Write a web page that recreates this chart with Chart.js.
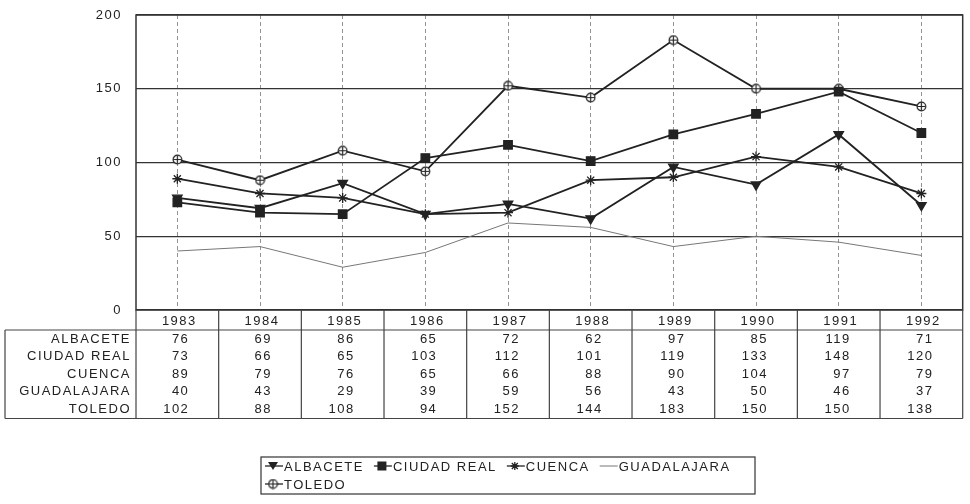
<!DOCTYPE html>
<html>
<head>
<meta charset="utf-8">
<script src="https://cdn.jsdelivr.net/npm/chart.js@4/dist/chart.umd.min.js"></script>
<style>
  html, body { margin: 0; padding: 0; background: #fff; }
  #wrap { width: 970px; height: 504px; }
</style>
</head>
<body>
<div id="wrap"><canvas id="chart" width="970" height="504"></canvas></div>
<script>
const years = ['1983', '1984', '1985', '1986', '1987', '1988', '1989', '1990', '1991', '1992'];
const albacete = [76, 69, 86, 65, 72, 62, 97, 85, 119, 71];
const ciudadReal = [73, 66, 65, 103, 112, 101, 119, 133, 148, 120];
const cuenca = [89, 79, 76, 65, 66, 88, 90, 104, 97, 79];
const guadalajara = [40, 43, 29, 39, 59, 56, 43, 50, 46, 37];
const toledo = [102, 88, 108, 94, 152, 144, 183, 150, 150, 138];
const yTicks = [0, 50, 100, 150, 200];

const ink = '#222';
const FONT = "13px 'Liberation Sans', Arial, sans-serif";

// open circle with a cross, used for TOLEDO
function circlePlus() {
  const c = document.createElement('canvas');
  c.width = 11; c.height = 11;
  const g = c.getContext('2d');
  g.fillStyle = '#fff';
  g.strokeStyle = ink;
  g.lineWidth = 1.2;
  g.beginPath(); g.arc(5.5, 5.5, 4.3, 0, Math.PI * 2); g.fill(); g.stroke();
  g.beginPath(); g.moveTo(1.5, 5.5); g.lineTo(9.5, 5.5); g.moveTo(5.5, 1.5); g.lineTo(5.5, 9.5); g.stroke();
  return c;
}
const toledoMark = circlePlus();

const series = [
  { label: 'ALBACETE', data: albacete, style: 'triangle', rotation: 180, radius: 5.5 },
  { label: 'CIUDAD REAL', data: ciudadReal, style: 'rect', radius: 6 },
  { label: 'CUENCA', data: cuenca, style: 'star', radius: 5 },
  { label: 'GUADALAJARA', data: guadalajara, style: false, radius: 0 },
  { label: 'TOLEDO', data: toledo, style: toledoMark, radius: 5 }
];

function drawMarker(ctx, s, x, y) {
  ctx.save();
  ctx.fillStyle = ink; ctx.strokeStyle = ink; ctx.lineWidth = 1.3;
  if (s.style === 'triangle') {
    ctx.beginPath(); ctx.moveTo(x - 5, y - 4); ctx.lineTo(x + 5, y - 4); ctx.lineTo(x, y + 4); ctx.closePath(); ctx.fill();
  } else if (s.style === 'rect') {
    ctx.fillRect(x - 4.5, y - 4.5, 9, 9);
  } else if (s.style === 'star') {
    ctx.beginPath();
    ctx.moveTo(x - 4, y); ctx.lineTo(x + 4, y); ctx.moveTo(x, y - 4); ctx.lineTo(x, y + 4);
    ctx.moveTo(x - 3, y - 3); ctx.lineTo(x + 3, y + 3); ctx.moveTo(x - 3, y + 3); ctx.lineTo(x + 3, y - 3);
    ctx.stroke();
  } else if (s.style) {
    ctx.drawImage(s.style, x - 5.5, y - 5.5);
  }
  ctx.restore();
}

const tablePlugin = {
  id: 'tablePlugin',
  beforeDraw(chart) {
    chart.ctx.letterSpacing = '1.5px';
  },
  afterDraw(chart) {
    const ctx = chart.ctx;
    const a = chart.chartArea;
    const x = chart.scales.x;
    const colW = (a.right - a.left) / years.length;
    ctx.save();
    ctx.letterSpacing = '1.5px';

    // plot frame
    ctx.strokeStyle = '#333';
    ctx.lineWidth = 1.5;
    ctx.strokeRect(a.left, a.top, a.right - a.left, a.bottom - a.top);

    // data table
    const headTop = a.bottom, headBottom = a.bottom + 20;
    const rowH = 17.5;
    const tableBottom = headBottom + rowH * series.length + 1;
    const labelLeft = 5;
    ctx.lineWidth = 1.2;
    ctx.strokeStyle = '#444';
    ctx.beginPath();
    ctx.moveTo(labelLeft, headBottom); ctx.lineTo(a.right, headBottom);
    ctx.moveTo(labelLeft, tableBottom); ctx.lineTo(a.right, tableBottom);
    ctx.moveTo(labelLeft, headBottom); ctx.lineTo(labelLeft, tableBottom);
    for (let i = 0; i <= years.length; i++) {
      const bx = a.left + i * colW;
      ctx.moveTo(bx, headTop); ctx.lineTo(bx, tableBottom);
    }
    ctx.stroke();

    ctx.font = FONT;
    ctx.fillStyle = ink;
    ctx.textBaseline = 'middle';
    years.forEach((yr, i) => {
      ctx.textAlign = 'center';
      ctx.fillText(yr, x.getPixelForValue(i) + 2, (headTop + headBottom) / 2 + 1);
    });
    series.forEach((s, r) => {
      const cy = headBottom + rowH * r + rowH / 2 + 0.5;
      ctx.textAlign = 'right';
      ctx.fillText(s.label, a.left - 5, cy);
      s.data.forEach((v, i) => {
        ctx.fillText(String(v), x.getPixelForValue(i) + 12, cy);
      });
    });

    // legend box
    const lx = 261, ly = 457, lw = 494, lh = 37;
    ctx.strokeStyle = '#333';
    ctx.lineWidth = 1.2;
    ctx.strokeRect(lx, ly, lw, lh);
    ctx.textAlign = 'left';
    let px = lx + 4, py = ly + 9;
    series.forEach((s, i) => {
      if (i === 4) { px = lx + 4; py = ly + 27; }
      ctx.strokeStyle = s.style ? ink : '#777';
      ctx.lineWidth = s.style ? 1.3 : 1;
      ctx.beginPath(); ctx.moveTo(px, py); ctx.lineTo(px + 18, py); ctx.stroke();
      drawMarker(ctx, s, px + 8, py);
      ctx.fillStyle = ink;
      ctx.fillText(s.label, px + 19, py + 1);
      px += 19 + ctx.measureText(s.label).width + 10;
    });
    ctx.restore();
  }
};

new Chart(document.getElementById('chart'), {
  type: 'line',
  data: {
    labels: years,
    datasets: series.map(s => ({
      label: s.label,
      data: s.data,
      borderColor: s.style ? ink : '#777',
      borderWidth: s.style ? 1.8 : 1,
      backgroundColor: ink,
      pointStyle: s.style,
      pointRotation: s.rotation || 0,
      pointRadius: s.radius,
      pointBorderColor: ink,
      pointBackgroundColor: ink,
      pointBorderWidth: 1.3,
      tension: 0
    }))
  },
  options: {
    responsive: false,
    animation: false,
    layout: { padding: { top: 15, bottom: 194, right: 3, left: 0 } },
    plugins: { legend: { display: false }, tooltip: { enabled: false } },
    scales: {
      x: {
        type: 'category',
        offset: true,
        ticks: { display: false },
        grid: { offset: false, color: '#777', lineWidth: 0.8, drawTicks: false },
        border: { display: false, dash: [4, 3] },
        afterFit(s) { s.height = 0; }
      },
      y: {
        min: 0,
        max: 200,
        afterBuildTicks(s) { s.ticks = yTicks.map(v => ({ value: v })); },
        ticks: { padding: 14, color: ink, font: { family: "'Liberation Sans', Arial, sans-serif", size: 13 } },
        grid: { color: '#333', lineWidth: 1.3, drawTicks: false },
        border: { display: false },
        afterFit(s) { s.width = 136; s.paddingTop = 0; }
      }
    }
  },
  plugins: [tablePlugin]
});
</script>
</body>
</html>
